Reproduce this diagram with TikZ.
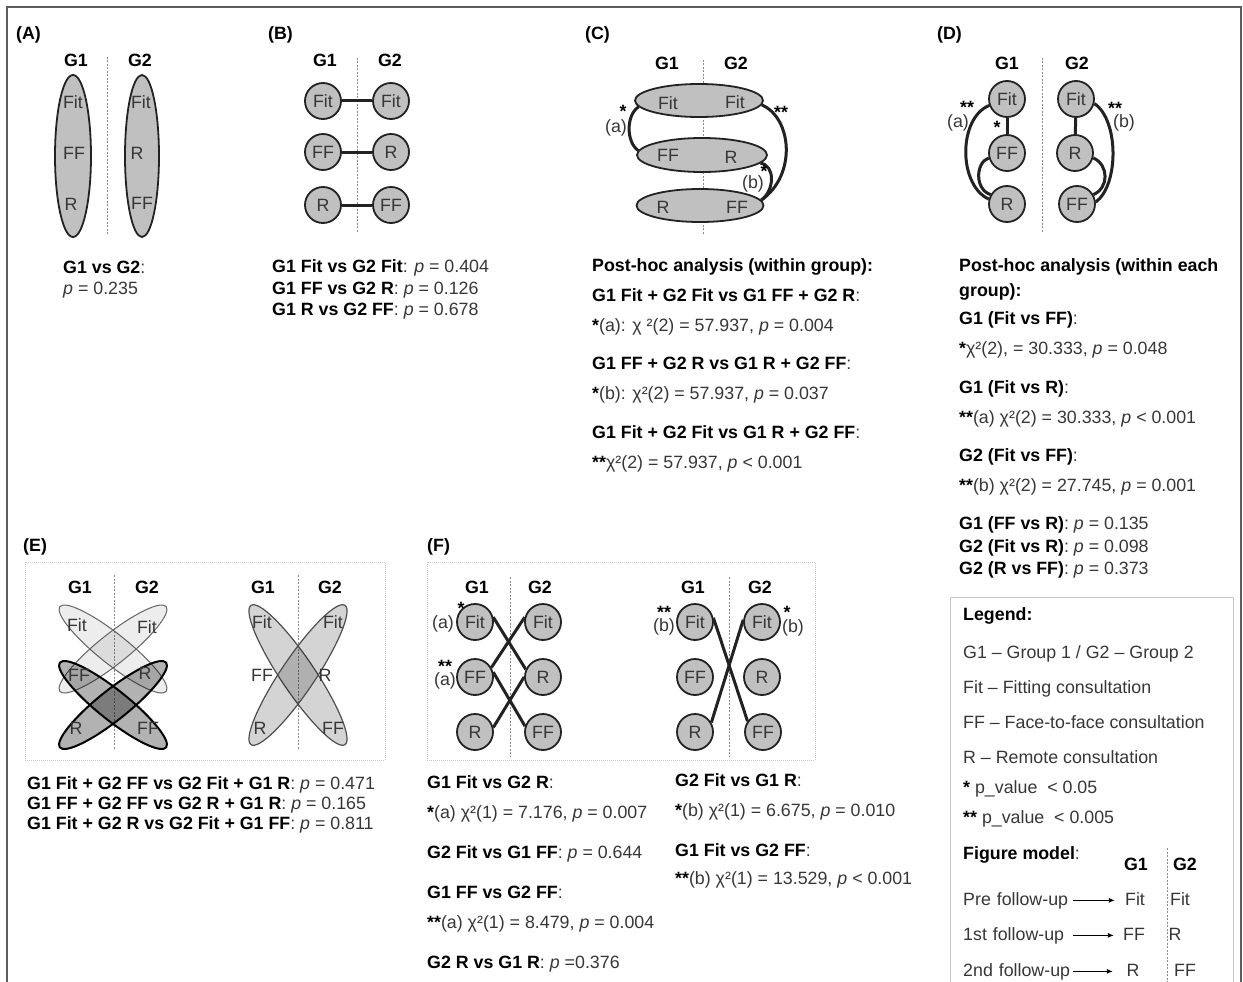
\documentclass[tikz,border=0pt]{standalone}
\usepackage{fontspec}
\setmainfont{Liberation Sans}
\usetikzlibrary{positioning, arrows.meta, shapes.geometric}
\definecolor{shade}{HTML}{C0C0C0}
\definecolor{ink}{HTML}{363636}
\definecolor{edge}{HTML}{222222}
\definecolor{rule}{HTML}{8A8A8A}
\definecolor{frame}{HTML}{5C5C5C}
\definecolor{boxline}{HTML}{C8C8C8}
\newcommand{\fs}{\fontsize{17.8}{21}\selectfont}
\newcommand{\hd}[1]{\textcolor{black}{\textbf{#1}}}
\newcommand{\pv}{\textit{p}}
\newcommand{\st}[1]{\textcolor{black}{\textbf{#1}}}

\begin{document}
\begin{tikzpicture}[x=1pt, y=1pt,
  every node/.style={font=\fs, text=ink},
  panel/.style={font=\fs\bfseries, text=black, anchor=west, inner sep=0},
  grp/.style={font=\fs\bfseries, text=black, inner sep=0},
  txt/.style={anchor=base west, inner sep=0},
  tag/.style={inner sep=0},
  state/.style={circle, draw=edge, line width=1.8pt, fill=shade, minimum size=36pt, inner sep=0},
  oval/.style={ellipse, draw=edge, line width=1.8pt, fill=shade, inner sep=0},
  link/.style={edge, line width=3pt},
  divider/.style={rule, line width=0.8pt, dash pattern=on 2pt off 1.5pt},
  pane/.style={boxline, line width=0.8pt, dash pattern=on 1pt off 1pt},
  light/.style={draw=edge!70, line width=1pt, fill=black, fill opacity=0.07},
  heavy/.style={draw=black, line width=2pt, fill=black, fill opacity=0.3},
  mid/.style={draw=edge!80, line width=1.2pt, fill=black, fill opacity=0.17},
  pointer/.style={-{Latex[length=6pt,width=5pt]}, line width=0.9pt, black}
]
\useasboundingbox (0,0) rectangle (1243,-982);
\draw[frame, line width=1.5pt] (7,-982) -- (7,-7) -- (1241,-7) -- (1241,-982);

% (A) groups as a whole
\node[panel] (pa) at (16,-35) {(A)};
\node[grp] (ag1) at (76,-60) {G1};
\node[grp] (ag2) at (140,-60) {G2};
\draw[divider] (107,-57) -- (107,-235);
\node[oval, minimum width=36pt, minimum height=162pt] (ea1) at (73,-156) {};
\node[oval, minimum width=34pt, minimum height=162pt] (ea2) at (142,-156) {};
\node[tag] (a1fit) at (73,-102) {Fit};
\node[tag] (a1ff) at (74,-153) {FF};
\node[tag] (a1r) at (71,-204) {R};
\node[tag] (a2fit) at (141,-102) {Fit};
\node[tag] (a2r) at (137,-153) {R};
\node[tag] (a2ff) at (142,-203) {FF};
\node[txt] (at1) at (63,-273) {\hd{G1 vs G2}:};
\node[txt] (at2) at (63,-294) {\pv{} = 0.235};

% (B) same moment, between groups
\node[panel] (pb) at (268,-35) {(B)};
\node[grp] (bg1) at (325,-60) {G1};
\node[grp] (bg2) at (390,-60) {G2};
\draw[divider] (357,-58) -- (357,-233);
\node[state] (b1fit) at (323,-101) {Fit};
\node[state] (b1ff) at (323,-152) {FF};
\node[state] (b1r) at (323,-205) {R};
\node[state] (b2fit) at (391,-101) {Fit};
\node[state] (b2r) at (391,-152) {R};
\node[state] (b2ff) at (391,-205) {FF};
\draw[link] (b1fit) -- (b2fit);
\draw[link] (b1ff) -- (b2r);
\draw[link] (b1r) -- (b2ff);
\node[txt] (bt1) at (272,-272) {\hd{G1 Fit vs G2 Fit}: \pv{} = 0.404};
\node[txt] (bt2) at (272,-294) {\hd{G1 FF vs G2 R}: \pv{} = 0.126};
\node[txt] (bt3) at (272,-315) {\hd{G1 R vs G2 FF}: \pv{} = 0.678};

% (C) moments pooled over both groups
\node[panel] (pc) at (585,-35) {(C)};
\node[grp] (cg1) at (667,-63) {G1};
\node[grp] (cg2) at (736,-63) {G2};
\draw[divider] (703,-60) -- (703,-235);
\node[oval, minimum width=128pt, minimum height=33pt] (c1) at (699,-100.5) {};
\node[oval, minimum width=130pt, minimum height=34pt] (c2) at (702,-155) {};
\node[oval, minimum width=127pt, minimum height=33pt] (c3) at (700,-205.5) {};
\node[tag] (c1l) at (668,-103) {Fit};
\node[tag] (c1r) at (735,-102) {Fit};
\node[tag] (c2l) at (668,-155) {FF};
\node[tag] (c2r) at (731,-157) {R};
\node[tag] (c3l) at (663,-207) {R};
\node[tag] (c3r) at (737,-207) {FF};
\draw[link] (c1.186) .. controls (626,-115) and (626,-142) .. (c2.176);
\draw[link] (c1.356) .. controls (792,-118) and (797,-175) .. (c3.5);
\draw[link] (c2.352) .. controls (775,-165) and (775,-190) .. (c3.5);
\node[tag] (cs1) at (623,-111) {\st{*}};
\node[tag] (ca) at (616,-128) {(a)};
\node[tag] (cs2) at (781,-112) {\st{**}};
\node[tag] (cs3) at (764,-171) {\st{*}};
\node[tag] (cb) at (753,-184) {(b)};
\node[txt] (ct1) at (592,-271) {\hd{Post-hoc analysis (within group):}};
\node[txt] (ct2) at (592,-301) {\hd{G1 Fit + G2 Fit vs G1 FF + G2 R}:};
\node[txt] (ct3) at (592,-331) {\st{*}(a): χ ²(2) = 57.937, \pv{} = 0.004};
\node[txt] (ct4) at (592,-369) {\hd{G1 FF + G2 R vs G1 R + G2 FF}:};
\node[txt] (ct5) at (592,-399) {\st{*}(b): χ²(2) = 57.937, \pv{} = 0.037};
\node[txt] (ct6) at (592,-438) {\hd{G1 Fit + G2 Fit vs G1 R + G2 FF}:};
\node[txt] (ct7) at (592,-468) {\st{**}χ²(2) = 57.937, \pv{} < 0.001};

% (D) moments within each group
\node[panel] (pd) at (937,-35) {(D)};
\node[grp] (dg1) at (1007,-63) {G1};
\node[grp] (dg2) at (1077,-63) {G2};
\draw[divider] (1042,-58) -- (1042,-233);
\node[state] (d1fit) at (1007,-99) {Fit};
\node[state] (d1ff) at (1007,-153) {FF};
\node[state] (d1r) at (1007,-204) {R};
\node[state] (d2fit) at (1076,-99) {Fit};
\node[state] (d2r) at (1075,-153) {R};
\node[state] (d2ff) at (1077,-204) {FF};
\draw[link] (d1fit) -- (d1ff);
\draw[link] (d2fit) -- (d2r);
\draw[link] (d1fit.200) .. controls (958,-118) and (958,-185) .. (d1r.165);
\draw[link] (d1ff.195) .. controls (975,-163) and (975,-190) .. (d1r.150);
\draw[link] (d2fit.346) .. controls (1119,-120) and (1119,-185) .. (d2ff.6);
\draw[link] (d2r.345) .. controls (1109,-165) and (1109,-188) .. (d2ff.30);
\node[tag] (ds1) at (967,-107) {\st{**}};
\node[tag] (da) at (958,-123) {(a)};
\node[tag] (ds2) at (997,-127) {\st{*}};
\node[tag] (ds3) at (1115,-108) {\st{**}};
\node[tag] (db) at (1124,-123) {(b)};
\node[txt] (dt1) at (959,-271) {\hd{Post-hoc analysis (within each}};
\node[txt] (dt2) at (959,-296) {\hd{group):}};
\node[txt] (dt3) at (959,-324) {\hd{G1 (Fit vs FF)}:};
\node[txt] (dt4) at (959,-354) {\st{*}χ²(2), = 30.333, \pv{} = 0.048};
\node[txt] (dt5) at (959,-393) {\hd{G1 (Fit vs R)}:};
\node[txt] (dt6) at (959,-423) {\st{**}(a) χ²(2) = 30.333, \pv{} < 0.001};
\node[txt] (dt7) at (959,-461) {\hd{G2 (Fit vs FF)}:};
\node[txt] (dt8) at (959,-491) {\st{**}(b) χ²(2) = 27.745, \pv{} = 0.001};
\node[txt] (dt9) at (959,-529) {\hd{G1 (FF vs R)}: \pv{} = 0.135};
\node[txt] (dt10) at (959,-552) {\hd{G2 (Fit vs R)}: \pv{} = 0.098};
\node[txt] (dt11) at (959,-574) {\hd{G2 (R vs FF)}: \pv{} = 0.373};

% (E) crossed pairs, ellipses
\node[panel] (pe) at (23,-547) {(E)};
\draw[pane] (25,-562) rectangle (385,-760);
\node[grp] (eg1) at (80,-587) {G1};
\node[grp] (eg2) at (147,-587) {G2};
\draw[divider] (114,-575) -- (114,-750);
\draw[light, rotate around={-38.6:(113,-649)}] (113,-649) ellipse [x radius=68, y radius=15];
\draw[light, rotate around={38.6:(113,-649)}] (113,-649) ellipse [x radius=68, y radius=15];
\draw[heavy, rotate around={-38.6:(113,-705)}] (113,-705) ellipse [x radius=68, y radius=15];
\draw[heavy, rotate around={38.6:(113,-705)}] (113,-705) ellipse [x radius=68, y radius=15];
\node[tag] (e1fit) at (77,-625) {Fit};
\node[tag] (e2fit) at (147,-627) {Fit};
\node[tag] (e1ff) at (79,-675) {FF};
\node[tag] (e2r) at (145,-673) {R};
\node[tag] (e1r) at (76,-728) {R};
\node[tag] (e2ff) at (148,-728) {FF};
\node[grp] (eh1) at (263,-587) {G1};
\node[grp] (eh2) at (330,-587) {G2};
\draw[divider] (298,-575) -- (298,-750);
\draw[mid, rotate around={-56:(298,-675)}] (298,-675) ellipse [x radius=84, y radius=17];
\draw[mid, rotate around={56:(298,-675)}] (298,-675) ellipse [x radius=84, y radius=17];
\node[tag] (h1fit) at (262,-622) {Fit};
\node[tag] (h2fit) at (333,-622) {Fit};
\node[tag] (h1ff) at (262,-675) {FF};
\node[tag] (h2r) at (325,-675) {R};
\node[tag] (h1r) at (260,-728) {R};
\node[tag] (h2ff) at (333,-728) {FF};
\node[txt] (et1) at (27,-789) {\hd{G1 Fit + G2 FF vs G2 Fit + G1 R}: \pv{} = 0.471};
\node[txt] (et2) at (27,-809) {\hd{G1 FF + G2 FF vs G2 R + G1 R}: \pv{} = 0.165};
\node[txt] (et3) at (27,-829) {\hd{G1 Fit + G2 R vs G2 Fit + G1 FF}: \pv{} = 0.811};

% (F) crossed pairs, single moments
\node[panel] (pf) at (427,-547) {(F)};
\draw[pane] (427,-562) rectangle (815,-760);
\node[grp] (fg1) at (477,-587) {G1};
\node[grp] (fg2) at (540,-587) {G2};
\draw[divider] (510,-577) -- (510,-757);
\node[state] (fa1fit) at (475,-622) {Fit};
\node[state] (fa1ff) at (475,-677) {FF};
\node[state] (fa1r) at (475,-732) {R};
\node[state] (fa2fit) at (543,-622) {Fit};
\node[state] (fa2r) at (543,-677) {R};
\node[state] (fa2ff) at (543,-732) {FF};
\draw[link] (fa1fit.15) -- (fa2r.156);
\draw[link] (fa1ff.30) -- (fa2fit.165);
\draw[link] (fa1ff.15) -- (fa2ff.162);
\draw[link] (fa1r.14) -- (fa2r.180);
\node[tag] (fs1) at (461,-608) {\st{*}};
\node[tag] (fa) at (443,-624) {(a)};
\node[tag] (fs2) at (445,-666) {\st{**}};
\node[tag] (fa') at (445,-681) {(a)};
\node[grp] (fh1) at (693,-587) {G1};
\node[grp] (fh2) at (760,-587) {G2};
\draw[divider] (729,-577) -- (729,-757);
\node[state] (fb1fit) at (695,-622) {Fit};
\node[state] (fb1ff) at (695,-677) {FF};
\node[state] (fb1r) at (695,-732) {R};
\node[state] (fb2fit) at (762,-622) {Fit};
\node[state] (fb2r) at (762,-677) {R};
\node[state] (fb2ff) at (763,-732) {FF};
\draw[link] (fb1fit.13) -- (fb2ff.145);
\draw[link] (fb1r.30) -- (fb2fit.173);
\node[tag] (fs3) at (664,-612) {\st{**}};
\node[tag] (fb) at (664,-627) {(b)};
\node[tag] (fs4) at (787,-612) {\st{*}};
\node[tag] (fb') at (793,-628) {(b)};
\node[txt] (ft1) at (427,-788) {\hd{G1 Fit vs G2 R}:};
\node[txt] (ft2) at (427,-818) {\st{*}(a) χ²(1) = 7.176, \pv{} = 0.007};
\node[txt] (ft3) at (427,-858) {\hd{G2 Fit vs G1 FF}: \pv{} = 0.644};
\node[txt] (ft4) at (427,-898) {\hd{G1 FF vs G2 FF}:};
\node[txt] (ft5) at (427,-928) {\st{**}(a) χ²(1) = 8.479, \pv{} = 0.004};
\node[txt] (ft6) at (427,-968) {\hd{G2 R vs G1 R}: \pv{} =0.376};
\node[txt] (fu1) at (675,-786) {\hd{G2 Fit vs G1 R}:};
\node[txt] (fu2) at (675,-816) {\st{*}(b) χ²(1) = 6.675, \pv{} = 0.010};
\node[txt] (fu3) at (675,-856) {\hd{G1 Fit vs G2 FF}:};
\node[txt] (fu4) at (675,-884) {\st{**}(b) χ²(1) = 13.529, \pv{} < 0.001};

% Legend
\draw[boxline, line width=1pt] (950,-982) -- (950,-597) -- (1233,-597) -- (1233,-982);
\node[txt] (lg0) at (963,-620) {\hd{Legend:}};
\node[txt] (lg1) at (963,-658) {G1 – Group 1 / G2 – Group 2};
\node[txt] (lg2) at (963,-693) {Fit – Fitting consultation};
\node[txt] (lg3) at (963,-728) {FF – Face-to-face consultation};
\node[txt] (lg4) at (963,-763) {R – Remote consultation};
\node[txt] (lg5) at (963,-793) {\st{*} p\_value \ < 0.05};
\node[txt] (lg6) at (963,-823) {\st{**} p\_value \ < 0.005};
\node[txt] (lg7) at (963,-859) {\hd{Figure model}:};
\node[grp] (mg1) at (1136,-864) {G1};
\node[grp] (mg2) at (1185,-864) {G2};
\draw[divider] (1167,-848) -- (1167,-982);
\node[txt, text width=110pt] (pre) at (963,-905) {Pre follow-up};
\node[txt, text width=110pt] (fu1st) at (963,-940) {1st follow-up};
\node[txt, text width=110pt] (fu2nd) at (963,-976) {2nd follow-up};
\node[tag, minimum width=26pt] (m1a) at (1135,-899) {Fit};
\node[tag] (m2a) at (1180,-899) {Fit};
\node[tag, minimum width=26pt] (m1b) at (1134,-934) {FF};
\node[tag] (m2b) at (1175,-934) {R};
\node[tag, minimum width=26pt] (m1c) at (1133,-970) {R};
\node[tag] (m2c) at (1185,-970) {FF};
\draw[pointer] (pre.east) -- ([xshift=-7pt]pre.east -| m1a.west);
\draw[pointer] (fu1st.east) -- ([xshift=-7pt]fu1st.east -| m1b.west);
\draw[pointer] (fu2nd.east) -- ([xshift=-7pt]fu2nd.east -| m1c.west);
\end{tikzpicture}
\end{document}
